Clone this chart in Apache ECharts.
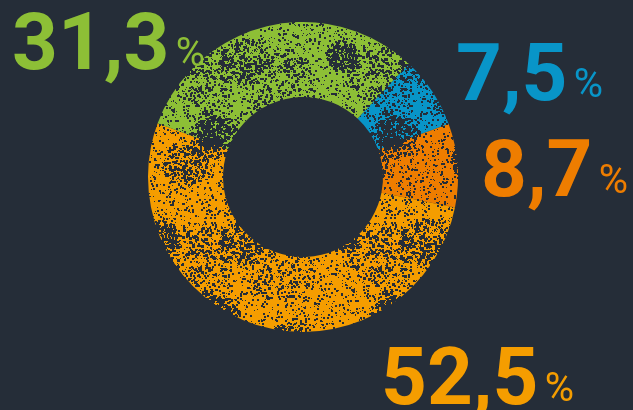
<!DOCTYPE html>
<html>
<head>
<meta charset="utf-8">
<script src="https://cdn.jsdelivr.net/npm/echarts@6/dist/echarts.min.js"></script>
<style>
html,body{margin:0;padding:0;background:#252d38;}
#c{width:633px;height:410px;}
</style>
</head>
<body>
<div id="c"></div>
<script>
// Data (clockwise order, starting at the top-right)
const categories = ['Blau', 'Dunkelorange', 'Orange', 'Grün'];
const values = [7.5, 8.7, 52.5, 31.3];
const colors = ['#0895c8', '#ee7d00', '#f59d00', '#8dbf36'];

const BG = '#252d38';

// speckled texture (deterministic hash noise, styling only)
function hash(n) { const s = Math.sin(n * 12.9898 + 78.233) * 43758.5453; return s - Math.floor(s); }
function speckle(base) {
  const S = 180;
  const cv = document.createElement('canvas');
  cv.width = S; cv.height = S;
  const g = cv.getContext('2d');
  g.fillStyle = base; g.fillRect(0, 0, S, S);
  g.fillStyle = BG;
  const centers = [];
  for (let k = 0; k < 8; k++) centers.push([hash(k * 3.1) * S, hash(k * 7.7 + 1) * S, 12 + hash(k * 5.3) * 24]);
  let idx = 0;
  for (let i = 0; i < 2200; i++) {
    const x = hash(++idx) * S, y = hash(++idx) * S, sz = 1 + Math.floor(hash(++idx) * 2.0);
    g.fillRect(Math.floor(x), Math.floor(y), sz, sz);
  }
  centers.forEach(function (c) {
    for (let i = 0; i < 300; i++) {
      const a = hash(++idx) * Math.PI * 2, r = Math.sqrt(hash(++idx)) * c[2];
      const x = (c[0] + Math.cos(a) * r + S) % S, y = (c[1] + Math.sin(a) * r + S) % S;
      const sz = 1 + Math.floor(hash(++idx) * 2.3);
      g.fillRect(Math.floor(x), Math.floor(y), sz, sz);
    }
  });
  return cv;
}

// label anchor (left, vertical middle)
const labelPos = [[456, 80], [481, 176], [381, 384], [12, 49]];

const chart = echarts.init(document.getElementById('c'), null, { renderer: 'canvas' });
chart.setOption({
  backgroundColor: BG,
  animation: false,
  series: [{
    type: 'pie',
    center: [303, 177],
    radius: [80, 155],
    startAngle: 47,
    clockwise: true,
    silent: true,
    data: categories.map(function (c, i) {
      return {
        name: c, value: values[i],
        itemStyle: { color: { image: speckle(colors[i]), repeat: 'repeat' } },
        label: { rich: {
          v: { fontFamily: 'Roboto', fontWeight: 'bold', fontSize: 80, color: colors[i], lineHeight: 80, verticalAlign: 'bottom' },
          p: { fontFamily: 'Roboto', fontWeight: 'normal', fontSize: 40, color: colors[i], verticalAlign: 'bottom', padding: [0, 0, 13, 3] }
        } }
      };
    }),
    label: {
      show: true,
      position: 'outside',
      overflow: 'none',
      width: 300,
      formatter: function (p) { return '{v|' + String(p.value).replace('.', ',') + '} {p|%}'; }
    },
    labelLine: { show: false },
    labelLayout: function (params) {
      const pos = labelPos[params.dataIndex];
      return { x: pos[0], y: pos[1], align: 'left', verticalAlign: 'middle', moveOverlap: null };
    }
  }]
});
</script>
</body>
</html>
